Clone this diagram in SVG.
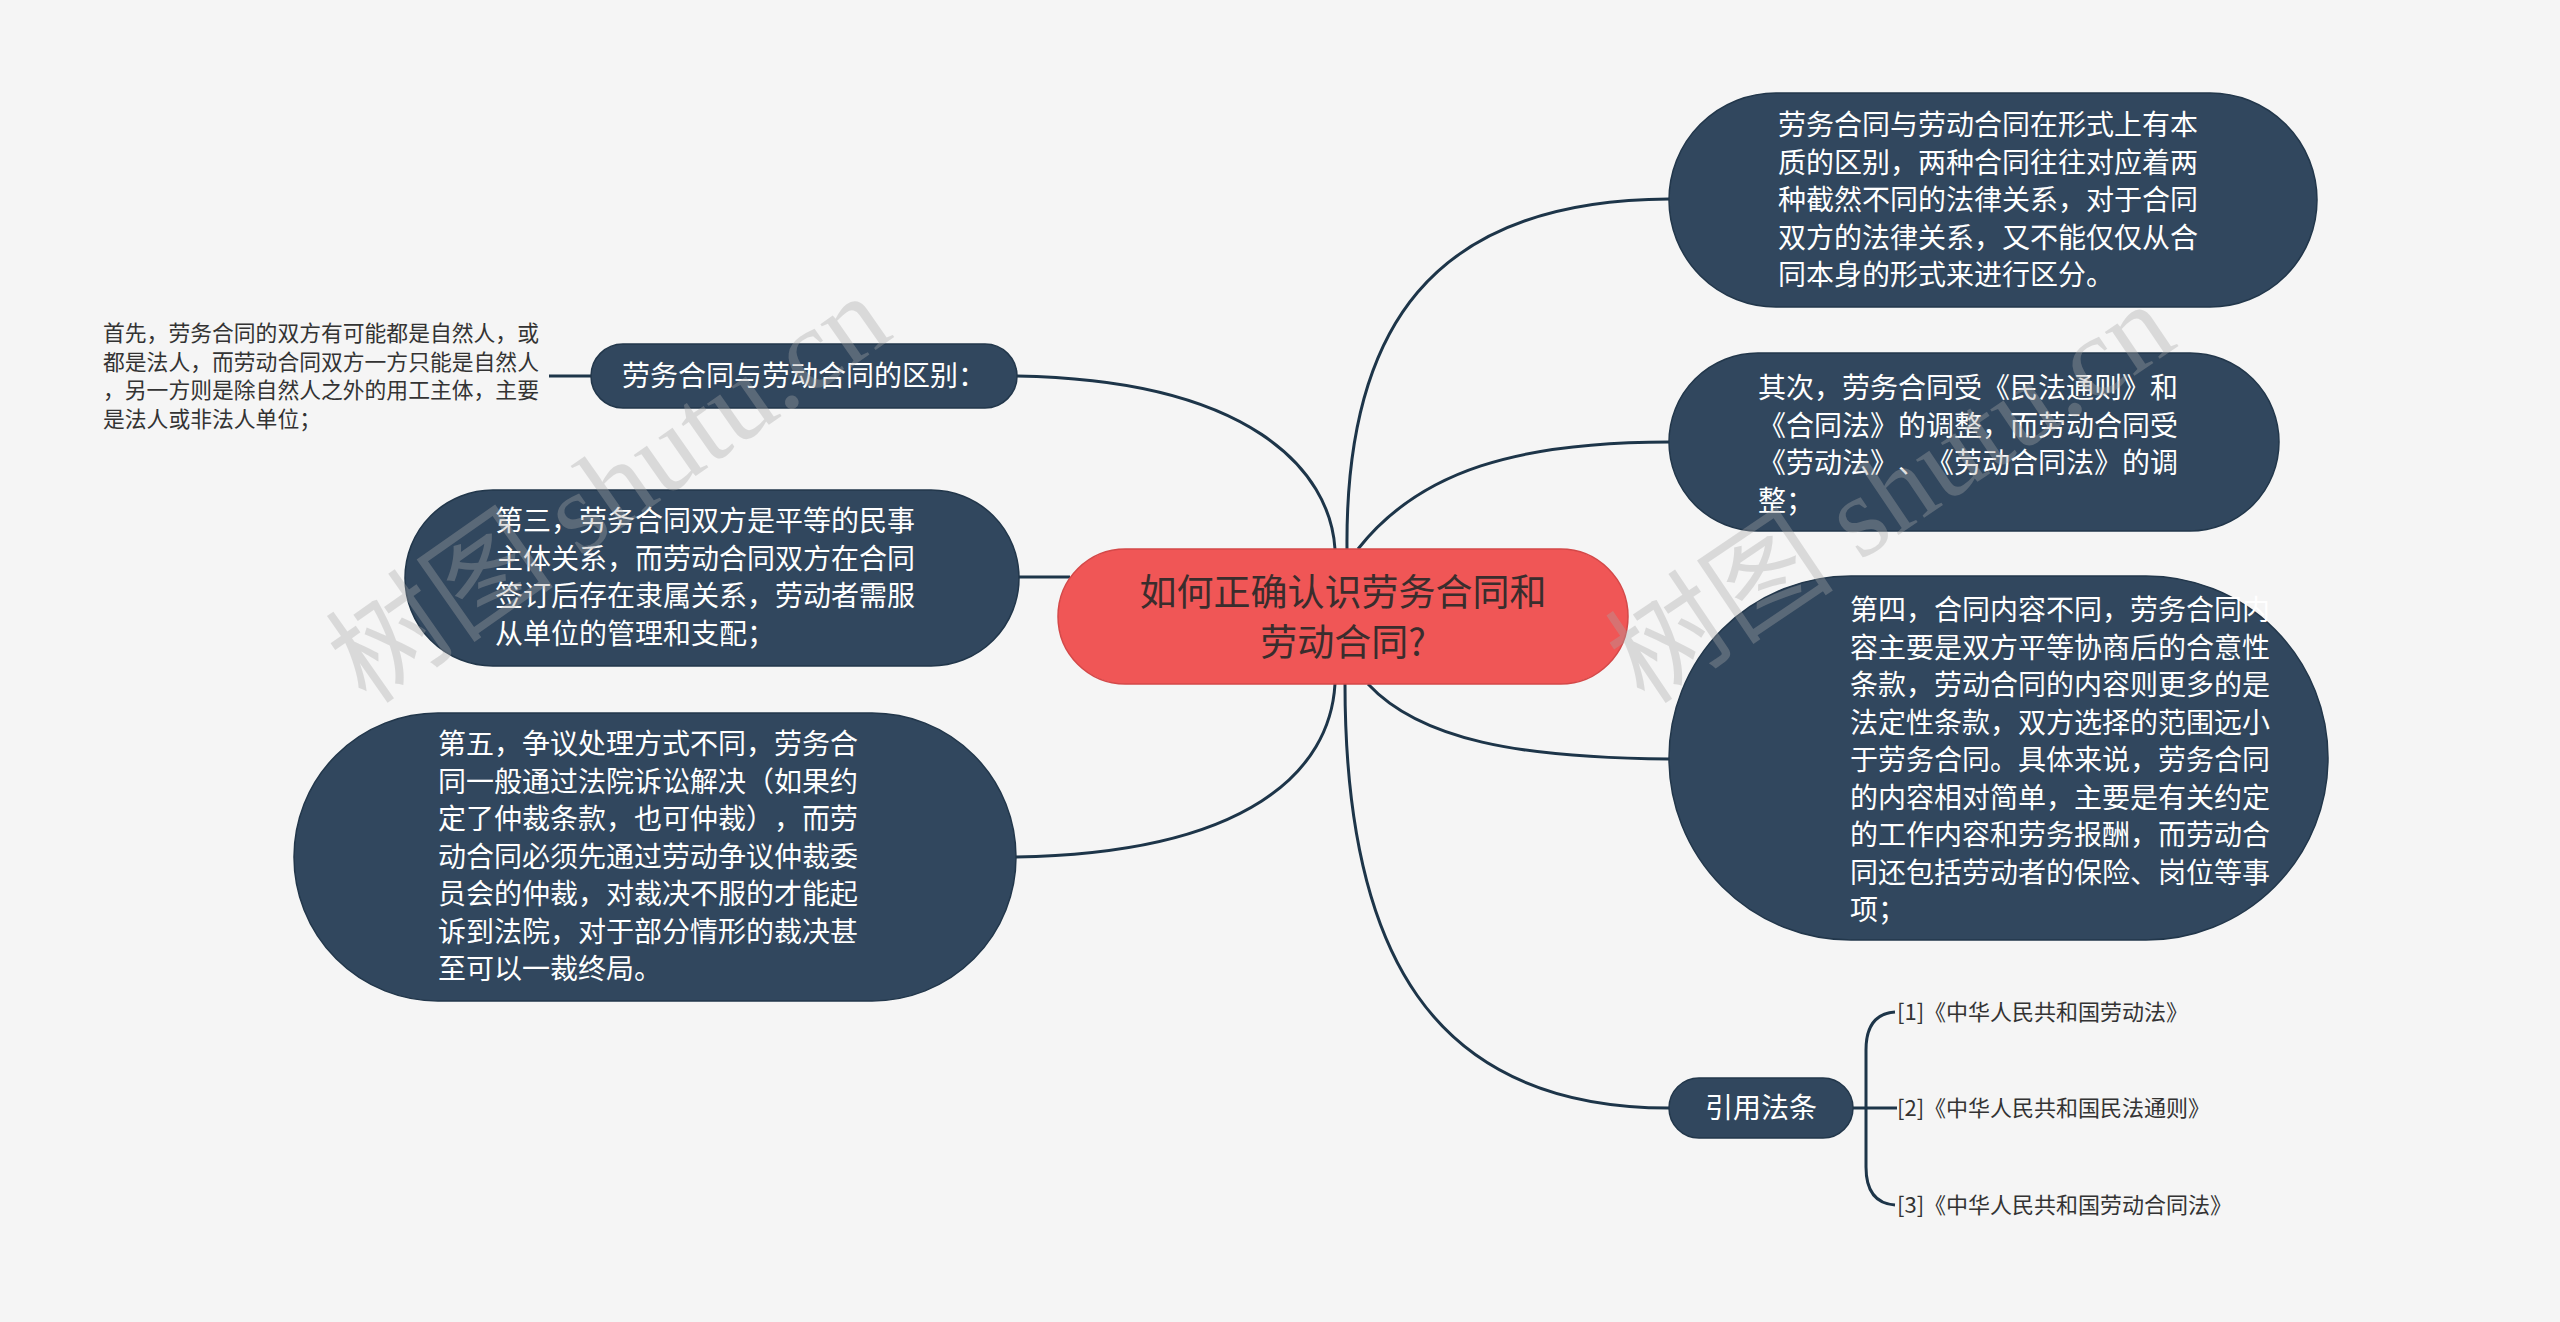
<svg xmlns="http://www.w3.org/2000/svg" width="2560" height="1322" viewBox="0 0 2560 1322">
<style>
text{text-spacing-trim:space-all}
.bg{fill:#f5f5f5}
.dark{fill:#31475e;stroke:#22374b;stroke-width:1.5}
.root{fill:#f05656;stroke:#d44848;stroke-width:1.5}
.wt{font-family:"Noto Sans CJK SC","Liberation Sans",sans-serif;font-size:28px;fill:#ffffff}
.rt{font-family:"Noto Sans CJK SC","Liberation Sans",sans-serif;font-size:37px;fill:#3a2d2d;text-anchor:middle}
.st{font-family:"Noto Sans CJK SC","Liberation Sans",sans-serif;font-size:21.8px;fill:#333333}
.ref{font-family:"Noto Sans CJK SC","Liberation Sans",sans-serif;font-size:22px;fill:#333333}
.conn path{fill:none;stroke:#1d3549;stroke-width:3}
.wm{font-family:"Liberation Serif","Noto Sans CJK SC",serif;font-size:115px;fill:#a8a8a8;opacity:0.35}
</style>
<rect class="bg" x="0" y="0" width="2560" height="1322"/>

<g id="connectors" class="conn">
<path d="M1017,376 C1250,380 1330,470 1335,549"/>
<path d="M1019,577 L1070,577"/>
<path d="M1016,857 C1250,853 1330,770 1335,684"/>
<path d="M1347,549 C1345,330 1430,200 1669,199"/>
<path d="M1358,549 C1420,470 1520,442 1669,442"/>
<path d="M1368,684 C1420,740 1520,758 1669,759"/>
<path d="M1345,684 C1345,950 1430,1108 1669,1108"/>
<path d="M591,376 L549,376"/>
<path d="M1853,1108 L1897,1108"/>
<path d="M1895,1012 Q1866,1014 1866,1050 L1866,1167 Q1866,1203 1895,1205"/>
</g>

<g id="root">
<rect class="root" x="1058" y="549" width="570" height="135" rx="67.5"/>
<text class="rt" x="1343" y="606">如何正确认识劳务合同和</text>
<text class="rt" x="1343" y="656">劳动合同?</text>
</g>

<g id="n-r1">
<rect class="dark" x="1669" y="93" width="648" height="214" rx="107"/>
<text class="wt" x="1778" y="135">劳务合同与劳动合同在形式上有本</text>
<text class="wt" x="1778" y="172.5">质的区别，两种合同往往对应着两</text>
<text class="wt" x="1778" y="210">种截然不同的法律关系，对于合同</text>
<text class="wt" x="1778" y="247.5">双方的法律关系，又不能仅仅从合</text>
<text class="wt" x="1778" y="285">同本身的形式来进行区分。</text>
</g>

<g id="n-r2">
<rect class="dark" x="1669" y="353" width="610" height="178" rx="89"/>
<text class="wt" x="1758" y="398">其次，劳务合同受《民法通则》和</text>
<text class="wt" x="1758" y="435.5">《合同法》的调整，而劳动合同受</text>
<text class="wt" x="1758" y="473">《劳动法》、《劳动合同法》的调</text>
<text class="wt" x="1758" y="510.5">整；</text>
</g>

<g id="n-r3">
<rect class="dark" x="1669" y="576" width="659" height="364" rx="182"/>
<text class="wt" x="1850" y="620">第四，合同内容不同，劳务合同内</text>
<text class="wt" x="1850" y="657.5">容主要是双方平等协商后的合意性</text>
<text class="wt" x="1850" y="695">条款，劳动合同的内容则更多的是</text>
<text class="wt" x="1850" y="732.5">法定性条款，双方选择的范围远小</text>
<text class="wt" x="1850" y="770">于劳务合同。具体来说，劳务合同</text>
<text class="wt" x="1850" y="807.5">的内容相对简单，主要是有关约定</text>
<text class="wt" x="1850" y="845">的工作内容和劳务报酬，而劳动合</text>
<text class="wt" x="1850" y="882.5">同还包括劳动者的保险、岗位等事</text>
<text class="wt" x="1850" y="920">项；</text>
</g>

<g id="n-refs">
<rect class="dark" x="1669" y="1078" width="184" height="60" rx="30"/>
<text class="wt" x="1761" y="1118" text-anchor="middle">引用法条</text>
</g>
<g id="n-ref1"><text class="ref" x="1897" y="1020">[1]《中华人民共和国劳动法》</text></g>
<g id="n-ref2"><text class="ref" x="1897" y="1116">[2]《中华人民共和国民法通则》</text></g>
<g id="n-ref3"><text class="ref" x="1897" y="1213">[3]《中华人民共和国劳动合同法》</text></g>

<g id="n-l1">
<rect class="dark" x="591" y="344" width="426" height="64" rx="32"/>
<text class="wt" x="622" y="386">劳务合同与劳动合同的区别：</text>
</g>
<g id="n-l1a">
<text class="st" x="103" y="341">首先，劳务合同的双方有可能都是自然人，或</text>
<text class="st" x="103" y="369.5">都是法人，而劳动合同双方一方只能是自然人</text>
<text class="st" x="103" y="398">，另一方则是除自然人之外的用工主体，主要</text>
<text class="st" x="103" y="426.5">是法人或非法人单位；</text>
</g>

<g id="n-l2">
<rect class="dark" x="405" y="490" width="614" height="176" rx="88"/>
<text class="wt" x="495" y="531">第三，劳务合同双方是平等的民事</text>
<text class="wt" x="495" y="568.5">主体关系，而劳动合同双方在合同</text>
<text class="wt" x="495" y="606">签订后存在隶属关系，劳动者需服</text>
<text class="wt" x="495" y="643.5">从单位的管理和支配；</text>
</g>

<g id="n-l3">
<rect class="dark" x="294" y="713" width="722" height="288" rx="144"/>
<text class="wt" x="438" y="754">第五，争议处理方式不同，劳务合</text>
<text class="wt" x="438" y="791.5">同一般通过法院诉讼解决（如果约</text>
<text class="wt" x="438" y="829">定了仲裁条款，也可仲裁），而劳</text>
<text class="wt" x="438" y="866.5">动合同必须先通过劳动争议仲裁委</text>
<text class="wt" x="438" y="904">员会的仲裁，对裁决不服的才能起</text>
<text class="wt" x="438" y="941.5">诉到法院，对于部分情形的裁决甚</text>
<text class="wt" x="438" y="979">至可以一裁终局。</text>
</g>

<g id="watermark">
<text class="wm" transform="translate(367,706) rotate(-35)">树图 shutu.cn</text>
<text class="wm" transform="translate(1645,706) rotate(-34)">树图 shutu.cn</text>
</g>
</svg>
